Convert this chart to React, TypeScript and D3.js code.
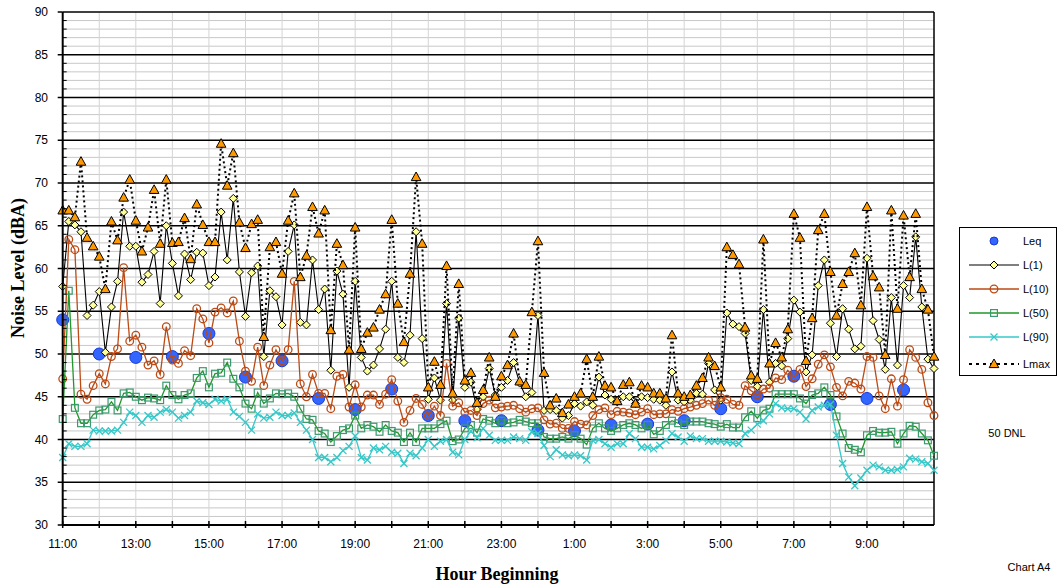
import React from "react";
import * as d3 from "d3";

// hourly labels on the x axis (every second hour)
const hourLabels = ["11:00", "13:00", "15:00", "17:00", "19:00", "21:00", "23:00", "1:00", "3:00", "5:00", "7:00", "9:00"];

// Leq, one value per hour beginning 11:00
const leq = [54.0, 50.0, 49.6, 49.7, 52.4, 47.3, 49.2, 44.8, 43.5, 45.9, 42.8, 42.2,
  42.2, 41.1, 41.0, 41.7, 41.8, 42.2, 43.6, 45.0, 47.4, 44.1, 44.8, 45.8];

// 10-minute intervals from 11:00
const l1 = [57.9, 65.5, 65.1, 64.3, 54.5, 55.7, 57.3, 50.2, 55.5, 58.5, 66.6, 62.6,
  62.6, 58.4, 59.3, 62.0, 55.9, 65.0, 60.6, 56.8, 61.7, 58.7, 61.9, 61.8,
  58.0, 59.0, 66.6, 61.0, 68.2, 59.6, 54.4, 59.5, 60.3, 49.7, 57.4, 56.7,
  53.4, 62.0, 65.1, 53.7, 53.4, 61.0, 55.2, 57.6, 48.1, 59.7, 57.0, 46.1,
  58.5, 49.6, 48.0, 48.7, 50.6, 52.9, 58.5, 49.6, 49.0, 52.2, 64.3, 51.8,
  44.7, 47.2, 44.6, 55.9, 44.6, 54.2, 46.1, 46.7, 43.5, 45.0, 48.3, 45.2,
  46.1, 46.9, 49.0, 46.6, 45.0, 45.5, 54.5, 43.4, 43.5, 43.4, 42.5, 42.8,
  44.2, 43.9, 44.4, 44.0, 47.3, 45.2, 44.7, 44.4, 45.0, 45.0, 44.2, 45.0,
  44.9, 44.7, 44.6, 44.0, 47.9, 44.6, 44.4, 44.6, 45.4, 45.3, 48.9, 45.8,
  44.6, 54.8, 53.5, 53.2, 52.4, 46.9, 46.2, 55.2, 46.7, 48.9, 48.6, 51.8,
  56.3, 54.9, 47.9, 49.9, 58.0, 61.0, 53.6, 49.7, 55.3, 52.9, 50.6, 50.9,
  61.2, 53.9, 51.7, 48.2, 56.6, 48.7, 58.0, 56.6, 63.7, 55.5, 49.4, 48.3];

const l10 = [47.1, 63.4, 62.2, 45.3, 44.7, 46.3, 47.7, 46.5, 49.7, 50.6, 60.1, 51.5,
  52.2, 50.8, 48.7, 49.2, 47.6, 53.2, 49.3, 48.9, 50.4, 49.8, 55.3, 54.1,
  51.3, 54.9, 55.4, 54.8, 56.2, 51.5, 48.0, 46.8, 50.8, 46.3, 48.7, 50.5,
  49.2, 50.5, 58.5, 46.5, 45.0, 47.6, 45.4, 45.4, 43.6, 47.4, 47.6, 43.8,
  46.4, 43.8, 45.2, 45.2, 44.1, 45.3, 47.0, 44.5, 42.0, 43.4, 44.8, 44.1,
  42.8, 43.9, 42.8, 48.9, 43.9, 44.3, 43.2, 43.4, 42.8, 44.2, 44.6, 43.7,
  43.8, 43.9, 44.0, 43.6, 43.2, 43.6, 43.7, 42.3, 41.8, 41.9, 41.3, 41.3,
  42.1, 41.8, 41.7, 42.8, 43.5, 43.7, 42.9, 43.3, 43.2, 43.1, 42.9, 43.2,
  43.6, 42.9, 43.0, 43.0, 43.5, 43.3, 43.6, 43.8, 44.0, 44.2, 44.6, 44.0,
  44.9, 44.7, 44.1, 44.0, 46.3, 45.7, 45.2, 45.9, 46.0, 47.2, 47.0, 48.1,
  47.3, 48.2, 46.2, 47.1, 48.8, 49.9, 48.5, 46.1, 45.1, 46.8, 46.6, 45.9,
  49.7, 49.6, 45.1, 43.6, 47.1, 43.9, 47.0, 50.5, 49.6, 48.2, 44.3, 42.8];

const l50 = [42.4, 57.4, 43.7, 41.9, 41.9, 42.9, 43.4, 43.5, 44.4, 43.4, 45.4, 45.5,
  45.0, 44.6, 44.9, 44.8, 44.6, 46.3, 45.2, 44.7, 45.2, 45.4, 47.2, 48.0,
  46.1, 47.7, 47.8, 49.0, 47.1, 46.1, 44.2, 43.6, 45.5, 44.2, 44.8, 45.4,
  45.3, 45.4, 45.0, 43.6, 42.4, 42.3, 41.0, 40.7, 39.7, 40.4, 41.1, 41.3,
  42.8, 41.3, 41.7, 41.5, 40.9, 41.7, 41.0, 40.8, 39.7, 40.8, 39.7, 41.3,
  41.3, 41.3, 41.8, 42.2, 39.8, 40.0, 41.3, 41.7, 40.8, 42.4, 42.2, 41.9,
  42.2, 41.9, 42.0, 42.3, 42.1, 41.9, 41.9, 40.3, 40.1, 40.1, 40.3, 40.1,
  40.5, 40.1, 39.4, 41.3, 41.9, 41.3, 41.0, 41.3, 41.7, 41.9, 41.7, 41.3,
  41.7, 40.6, 41.0, 41.7, 42.2, 41.9, 41.7, 42.1, 42.1, 42.1, 41.9, 41.8,
  41.5, 41.8, 41.4, 41.4, 42.6, 43.3, 42.5, 43.4, 43.6, 45.3, 45.3, 45.3,
  45.3, 44.8, 44.2, 45.2, 45.4, 46.1, 45.2, 42.7, 40.7, 39.0, 38.8, 38.5,
  40.5, 41.0, 40.8, 40.8, 40.9, 39.5, 40.7, 41.6, 41.5, 40.7, 39.9, 38.1];

const l90 = [37.9, 39.5, 39.2, 39.2, 39.5, 41.1, 41.0, 41.0, 41.0, 41.1, 42.0, 43.2,
  42.8, 42.0, 42.8, 42.6, 43.2, 43.5, 43.2, 42.5, 42.8, 43.2, 44.5, 44.3,
  44.1, 44.7, 44.5, 44.7, 43.2, 42.7, 42.0, 41.1, 43.0, 42.5, 42.6, 43.2,
  42.8, 42.8, 43.1, 42.0, 41.1, 40.0, 37.9, 37.9, 37.4, 37.9, 38.7, 39.2,
  40.4, 37.9, 37.6, 39.0, 38.8, 39.2, 38.5, 38.4, 37.2, 38.4, 38.1, 39.0,
  40.0, 39.2, 39.8, 40.0, 38.5, 38.2, 40.0, 41.0, 40.2, 41.3, 40.5, 39.9,
  39.9, 39.9, 40.3, 40.1, 39.9, 40.9, 40.7, 39.3, 38.0, 38.8, 38.2, 38.1,
  38.2, 38.1, 37.6, 39.9, 40.0, 39.5, 39.1, 39.5, 39.5, 40.7, 40.1, 39.1,
  39.1, 38.9, 39.3, 39.9, 40.7, 40.3, 39.8, 40.4, 40.1, 40.1, 39.8, 39.8,
  39.8, 39.7, 39.6, 39.5, 40.7, 41.1, 41.8, 42.2, 43.0, 44.2, 43.7, 43.6,
  43.6, 43.2, 42.4, 43.4, 43.8, 44.0, 44.1, 40.5, 37.2, 35.6, 34.6, 35.5,
  36.4, 37.0, 36.8, 36.4, 36.4, 36.5, 36.8, 37.8, 37.7, 37.4, 37.2, 36.4];

const lmax = [66.8, 66.8, 66.0, 72.5, 63.6, 62.6, 61.4, 57.6, 65.5, 63.3, 68.3, 70.4,
  65.6, 62.0, 64.8, 69.2, 62.9, 70.4, 63.0, 63.1, 65.9, 61.1, 67.5, 65.1,
  63.1, 63.1, 74.6, 69.7, 73.5, 65.4, 62.4, 65.2, 65.7, 52.0, 62.5, 63.1,
  59.4, 65.6, 68.8, 59.0, 61.5, 67.2, 64.1, 66.8, 52.8, 62.9, 60.4, 50.5,
  64.8, 50.6, 52.5, 53.1, 55.2, 57.0, 65.7, 55.9, 51.4, 59.4, 70.7, 62.9,
  46.1, 49.1, 46.4, 60.3, 45.4, 58.2, 46.9, 47.8, 44.3, 45.8, 49.6, 45.0,
  47.4, 48.7, 52.4, 46.8, 46.4, 54.9, 63.2, 47.8, 44.0, 44.8, 43.1, 44.1,
  45.0, 45.4, 49.4, 45.0, 49.7, 46.3, 46.1, 44.5, 46.4, 46.7, 44.2, 46.3,
  46.1, 45.4, 45.4, 44.8, 52.2, 45.4, 45.0, 45.2, 46.3, 47.2, 49.6, 48.6,
  46.1, 62.5, 61.6, 60.5, 53.1, 47.5, 47.1, 63.4, 48.9, 51.3, 49.6, 52.9,
  66.4, 63.6, 49.2, 54.2, 64.5, 66.4, 59.6, 54.5, 58.2, 59.6, 61.8, 55.7,
  67.2, 59.1, 57.8, 49.9, 66.8, 55.3, 66.2, 59.0, 66.4, 57.6, 55.2, 49.7];

const W = 1060;
const H = 588;
const left = 62.7;
const right = 934;
const top = 12;
const bottom = 525;

const x = d3.scaleLinear().domain([0, 1430]).range([left, right]);
const y = d3.scaleLinear().domain([30, 90]).range([bottom, top]);

type Pt = [number, number];
const pts = (arr: number[], step: number): Pt[] => arr.map((v, i) => [x(i * step), y(v)]);
const line = d3.line<Pt>().x((d) => d[0]).y((d) => d[1]);

const sans = "'Liberation Sans', Arial, sans-serif";
const serif = "'Liberation Serif', 'Times New Roman', serif";

const C_L10 = "#bb4a14";
const C_L50 = "#22972a";
const C_L50M = "#3a9a6e";
const C_L90 = "#36c8c8";

const Diamond = ({ cx, cy }: { cx: number; cy: number }) => (
  <path d={`M${cx},${cy - 4}L${cx + 4},${cy}L${cx},${cy + 4}L${cx - 4},${cy}Z`} fill="#ffff99" stroke="#000" strokeWidth={1} />
);
const Tri = ({ cx, cy }: { cx: number; cy: number }) => (
  <path d={`M${cx},${cy - 5}L${cx + 4.8},${cy + 3.6}L${cx - 4.8},${cy + 3.6}Z`} fill="#ff9900" stroke="#000" strokeWidth={1} />
);
const Ring = ({ cx, cy }: { cx: number; cy: number }) => (
  <circle cx={cx} cy={cy} r={3.8} fill="none" stroke={C_L10} strokeWidth={1.3} />
);
const Sq = ({ cx, cy }: { cx: number; cy: number }) => (
  <rect x={cx - 3.4} y={cy - 3.4} width={6.8} height={6.8} fill="none" stroke={C_L50M} strokeWidth={1.2} />
);
const Cross = ({ cx, cy }: { cx: number; cy: number }) => (
  <path d={`M${cx - 3.5},${cy - 3.5}L${cx + 3.5},${cy + 3.5}M${cx - 3.5},${cy + 3.5}L${cx + 3.5},${cy - 3.5}`} stroke={C_L90} strokeWidth={1.3} />
);
const Dot = ({ cx, cy }: { cx: number; cy: number }) => (
  <circle cx={cx} cy={cy} r={6} fill="#3366ff" stroke="#1a3ad6" strokeWidth={1} />
);

export default function App() {
  const minor = d3.range(30, 91, 1).filter((v) => v % 5 !== 0);
  const major = d3.range(30, 91, 5);
  const hours = d3.range(0, 24).map((h) => h * 60);

  const pL1 = pts(l1, 10);
  const pL10 = pts(l10, 10);
  const pL50 = pts(l50, 10);
  const pL90 = pts(l90, 10);
  const pMax = pts(lmax, 10);
  const pLeq = pts(leq, 60);

  const legendItems = ["Leq", "L(1)", "L(10)", "L(50)", "L(90)", "Lmax"];
  const legendY = [241, 265, 289, 313, 337, 364];
  const lx0 = 969, lx1 = 1019, lmx = 994;

  return (
    <svg width={W} height={H} style={{ position: "absolute", left: 0, top: 0, background: "#fff" }} fontFamily={sans}>
      <rect x={0} y={0} width={W} height={H} fill="#fff" />
      {/* grid */}
      {minor.map((v) => (
        <line key={"m" + v} x1={left} x2={right} y1={y(v)} y2={y(v)} stroke="#c8c8c8" strokeWidth={1} />
      ))}
      {hours.slice(1).map((m) => (
        <line key={"v" + m} x1={x(m)} x2={x(m)} y1={top} y2={bottom} stroke="#d4d4d4" strokeWidth={1} />
      ))}
      {major.map((v) => (
        <line key={"M" + v} x1={left} x2={right} y1={y(v)} y2={y(v)} stroke="#000" strokeWidth={1.5} />
      ))}
      <line x1={right} x2={right} y1={top} y2={bottom} stroke="#000" strokeWidth={1.5} />

      {/* series */}
      {pLeq.map(([cx, cy], i) => <Dot key={"q" + i} cx={cx} cy={cy} />)}

      <path d={line(pL1) ?? ""} fill="none" stroke="#000" strokeWidth={1.1} />
      {pL1.map(([cx, cy], i) => <Diamond key={"a" + i} cx={cx} cy={cy} />)}

      <path d={line(pL10) ?? ""} fill="none" stroke={C_L10} strokeWidth={1.3} />
      {pL10.map(([cx, cy], i) => <Ring key={"b" + i} cx={cx} cy={cy} />)}

      <path d={line(pL50) ?? ""} fill="none" stroke={C_L50} strokeWidth={1.3} />
      {pL50.map(([cx, cy], i) => <Sq key={"c" + i} cx={cx} cy={cy} />)}

      <path d={line(pL90) ?? ""} fill="none" stroke={C_L90} strokeWidth={1.3} />
      {pL90.map(([cx, cy], i) => <Cross key={"d" + i} cx={cx} cy={cy} />)}

      <path d={line(pMax) ?? ""} fill="none" stroke="#000" strokeWidth={2} strokeDasharray="2,3" />
      {pMax.map(([cx, cy], i) => <Tri key={"e" + i} cx={cx} cy={cy} />)}

      {/* axes */}
      <line x1={left} x2={left} y1={top} y2={bottom} stroke="#000" strokeWidth={2} />
      <line x1={left} x2={right} y1={bottom} y2={bottom} stroke="#000" strokeWidth={2} />
      {major.map((v) => (
        <g key={"yt" + v}>
          <line x1={left - 5} x2={left} y1={y(v)} y2={y(v)} stroke="#000" strokeWidth={1.5} />
          <text x={48} y={y(v) + 4} textAnchor="end" fontSize={12} fill="#000">{v}</text>
        </g>
      ))}
      {minor.map((v) => (
        <line key={"ym" + v} x1={left} x2={left + 4} y1={y(v)} y2={y(v)} stroke="#000" strokeWidth={1} />
      ))}
      {hours.map((m) => (
        <line key={"xt" + m} x1={x(m)} x2={x(m)} y1={bottom - 4} y2={bottom + 3} stroke="#000" strokeWidth={1.5} />
      ))}
      {hourLabels.map((lab, i) => (
        <text key={"xl" + i} x={x(i * 120)} y={548} textAnchor="middle" fontSize={12} fill="#000">{lab}</text>
      ))}

      <text x={497} y={580} textAnchor="middle" fontFamily={serif} fontWeight="bold" fontSize={18}>Hour Beginning</text>
      <text transform={`translate(24,268) rotate(-90)`} textAnchor="middle" fontFamily={serif} fontWeight="bold" fontSize={18}>Noise Level (dBA)</text>

      {/* legend */}
      <rect x={959.5} y={227.5} width={97} height={148} fill="#fff" stroke="#000" strokeWidth={1} />
      {legendItems.map((lab, i) => {
        const ly = legendY[i];
        return (
          <g key={"lg" + i}>
            {i === 1 && <line x1={lx0} x2={lx1} y1={ly} y2={ly} stroke="#000" strokeWidth={1.1} />}
            {i === 2 && <line x1={lx0} x2={lx1} y1={ly} y2={ly} stroke={C_L10} strokeWidth={1.3} />}
            {i === 3 && <line x1={lx0} x2={lx1} y1={ly} y2={ly} stroke={C_L50} strokeWidth={1.3} />}
            {i === 4 && <line x1={lx0} x2={lx1} y1={ly} y2={ly} stroke={C_L90} strokeWidth={1.3} />}
            {i === 5 && <line x1={lx0} x2={lx1} y1={ly} y2={ly} stroke="#000" strokeWidth={2} strokeDasharray="3,4" />}
            {i === 0 && <circle cx={lmx} cy={ly} r={4} fill="#3366ff" stroke="#1a3ad6" />}
            {i === 1 && <Diamond cx={lmx} cy={ly} />}
            {i === 2 && <Ring cx={lmx} cy={ly} />}
            {i === 3 && <Sq cx={lmx} cy={ly} />}
            {i === 4 && <Cross cx={lmx} cy={ly} />}
            {i === 5 && <Tri cx={lmx} cy={ly} />}
            <text x={1023} y={ly + 4} fontSize={11}>{lab}</text>
          </g>
        );
      })}

      <text x={1007} y={437} textAnchor="middle" fontSize={11}>50 DNL</text>
      <text x={1029} y={571} textAnchor="middle" fontSize={11}>Chart A4</text>
    </svg>
  );
}
